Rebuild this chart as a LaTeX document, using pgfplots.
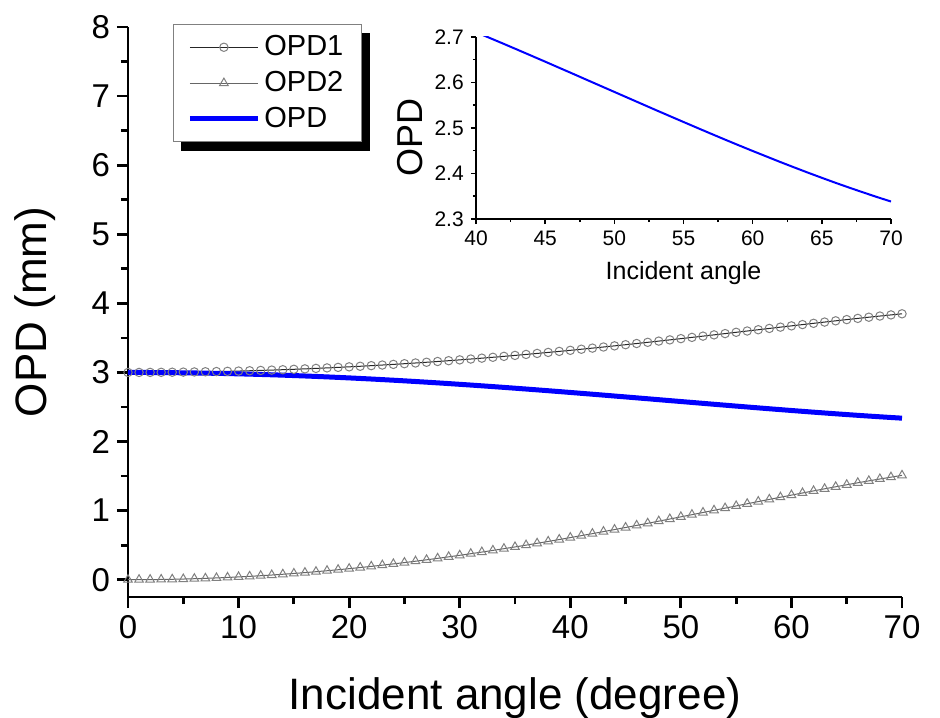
\documentclass[border=0pt]{standalone}
\usepackage{pgfplots}
\pgfplotsset{compat=1.18}
\usepackage{pgfplotstable}
\usepackage{fontspec}
\setmainfont{Liberation Sans}
\usetikzlibrary{backgrounds}

% angle, OPD1, OPD2, OPD (mm)
\pgfplotstableread{
ang opdA opdB opd
0 3.0000 0.0000 3.0000
1 3.0002 0.0004 2.9998
2 3.0008 0.0016 2.9992
3 3.0018 0.0037 2.9982
4 3.0033 0.0065 2.9968
5 3.0051 0.0102 2.9949
6 3.0073 0.0146 2.9927
7 3.0100 0.0199 2.9901
8 3.0130 0.0259 2.9871
9 3.0165 0.0328 2.9836
10 3.0203 0.0405 2.9798
11 3.0246 0.0489 2.9756
12 3.0292 0.0582 2.9710
13 3.0343 0.0682 2.9661
14 3.0398 0.0791 2.9607
15 3.0457 0.0907 2.9550
16 3.0520 0.1030 2.9489
17 3.0587 0.1162 2.9425
18 3.0658 0.1301 2.9357
19 3.0733 0.1448 2.9285
20 3.0812 0.1602 2.9210
21 3.0895 0.1764 2.9131
22 3.0982 0.1932 2.9050
23 3.1073 0.2108 2.8964
24 3.1168 0.2292 2.8876
25 3.1267 0.2482 2.8785
26 3.1370 0.2679 2.8690
27 3.1476 0.2883 2.8593
28 3.1587 0.3094 2.8493
29 3.1702 0.3312 2.8390
30 3.1820 0.3536 2.8284
31 3.1942 0.3766 2.8176
32 3.2068 0.4002 2.8066
33 3.2197 0.4245 2.7953
34 3.2331 0.4493 2.7837
35 3.2467 0.4747 2.7720
36 3.2608 0.5007 2.7601
37 3.2752 0.5272 2.7480
38 3.2899 0.5542 2.7357
39 3.3049 0.5817 2.7232
40 3.3203 0.6097 2.7106
41 3.3360 0.6382 2.6978
42 3.3520 0.6670 2.6850
43 3.3683 0.6963 2.6720
44 3.3849 0.7259 2.6589
45 3.4017 0.7559 2.6458
46 3.4188 0.7862 2.6325
47 3.4361 0.8169 2.6193
48 3.4537 0.8477 2.6059
49 3.4714 0.8788 2.5926
50 3.4893 0.9101 2.5793
51 3.5075 0.9415 2.5660
52 3.5257 0.9730 2.5527
53 3.5441 1.0047 2.5394
54 3.5626 1.0363 2.5263
55 3.5812 1.0680 2.5132
56 3.5998 1.0996 2.5002
57 3.6184 1.1312 2.4873
58 3.6371 1.1626 2.4745
59 3.6557 1.1938 2.4619
60 3.6742 1.2247 2.4495
61 3.6927 1.2554 2.4373
62 3.7110 1.2858 2.4252
63 3.7292 1.3158 2.4134
64 3.7472 1.3454 2.4018
65 3.7649 1.3744 2.3905
66 3.7824 1.4030 2.3794
67 3.7996 1.4309 2.3687
68 3.8164 1.4582 2.3583
69 3.8328 1.4847 2.3481
70 3.8489 1.5105 2.3384
}\opdtable

\definecolor{markgray}{RGB}{128,128,128}
\definecolor{opdblue}{RGB}{0,0,255}

\begin{document}
\begin{tikzpicture}
\path[use as bounding box] (-64pt,-60pt) rectangle (406pt,298.5pt);

% main plot
\begin{axis}[
  name=main,
  at={(0,0)}, anchor=south west,
  width=387pt, height=285pt, scale only axis,
  xmin=0, xmax=70, ymin=-0.25, ymax=8,
  axis x line=bottom, axis y line=left,
  axis line style={-, line width=1.4pt},
  tick align=outside,
  xtick={0,10,...,70}, ytick={0,1,...,8},
  minor x tick num=1, minor y tick num=1,
  major tick length=5.5pt, minor tick length=3.5pt,
  every tick/.style={black, line width=1.4pt},
  /pgf/number format/assume math mode=true,
  tick label style={font=\fontsize{16.5}{19}\selectfont},
  xlabel={Incident angle (degree)},
  ylabel={OPD (mm)},
  label style={font=\fontsize{22}{26}\selectfont},
  xlabel style={at={(axis description cs:0.5,-0.198)}, anchor=base},
  ylabel style={at={(axis description cs:-0.105,0.5)}, anchor=base},
  legend cell align=left,
  legend image code/.code={
    \draw[mark repeat=2, mark phase=2] plot coordinates {(0pt,0pt) (17pt,0pt) (34pt,0pt)};
  },
  legend style={
    name=leg,
    at={(rel axis cs:0.058,1.005)}, anchor=north west,
    font=\fontsize{14.5}{17}\selectfont,
    draw=markgray, line width=0.5pt, fill=white,
    inner xsep=7pt, inner ysep=3.5pt,
    row sep=2.3pt,
  },
]
\addplot[black!85, line width=0.5pt, mark=o, mark size=2.1pt,
  mark options={draw=markgray, fill=white, line width=0.5pt}]
  table[x=ang, y=opdA] {\opdtable};
\addlegendentry{OPD1}
\addplot[black!60, line width=0.5pt, mark=triangle, mark size=2.5pt,
  mark options={draw=markgray, fill=white, line width=0.5pt}]
  table[x=ang, y=opdB] {\opdtable};
\addlegendentry{OPD2}
\addplot[opdblue, line width=2.5pt, no marks]
  table[x=ang, y=opd] {\opdtable};
\addlegendentry{OPD}
\end{axis}

% solid shadow behind the legend box
\begin{scope}[on background layer]
  \fill[black] ([xshift=4pt,yshift=-4.5pt]leg.south west) rectangle ([xshift=4pt,yshift=-4.5pt]leg.north east);
\end{scope}

% inset: OPD between 40 and 70 degrees
\begin{axis}[
  at={(174pt,189pt)}, anchor=south west,
  width=207.5pt, height=91pt, scale only axis,
  xmin=40, xmax=70, ymin=2.3, ymax=2.7,
  axis x line=bottom, axis y line=left,
  axis line style={-, line width=0.75pt},
  tick align=outside,
  xtick={40,45,...,70}, ytick={2.3,2.4,...,2.7},
  minor x tick num=1, minor y tick num=1,
  major tick length=2.6pt, minor tick length=1.6pt,
  every tick/.style={black, line width=0.75pt},
  /pgf/number format/assume math mode=true,
  yticklabel style={/pgf/number format/.cd, fixed, fixed zerofill, precision=1},
  tick label style={font=\fontsize{10.5}{12}\selectfont},
  xlabel={Incident angle},
  ylabel={OPD},
  xlabel style={font=\fontsize{12.5}{15}\selectfont, at={(axis description cs:0.5,-0.335)}, anchor=base},
  ylabel style={font=\fontsize{18}{21}\selectfont, at={(axis description cs:-0.128,0.45)}, anchor=base},
]
\addplot[opdblue, line width=1pt, no marks]
  table[x=ang, y=opd] {\opdtable};
\end{axis}
\end{tikzpicture}
\end{document}
